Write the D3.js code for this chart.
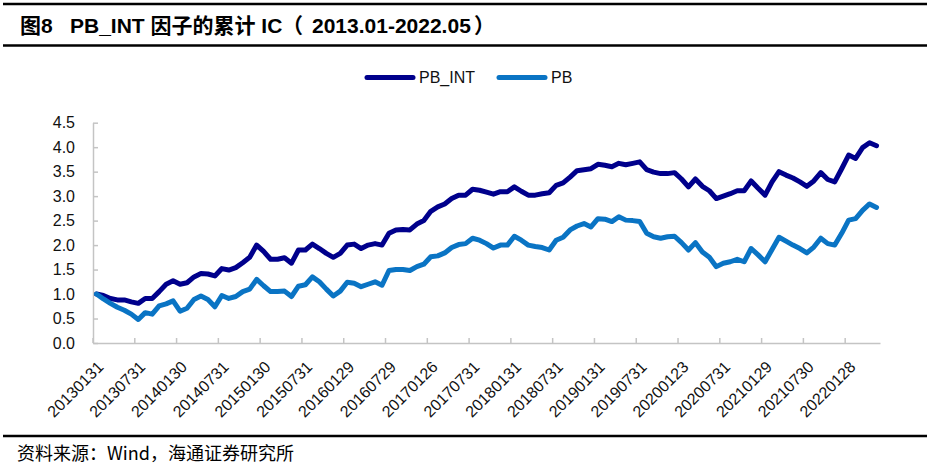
<!DOCTYPE html>
<html>
<head>
<meta charset="utf-8">
<script src="https://cdn.jsdelivr.net/npm/d3@7"></script>
<style>
  html, body { margin: 0; padding: 0; background: #fff; }
  svg { display: block; }
  text { font-family: "Liberation Sans", Arial, "Noto Sans CJK SC", sans-serif; }
</style>
</head>
<body>
<svg id="chart" width="928" height="469"></svg>
<script>
const dates = [
  "20130131","20130228","20130329","20130426","20130531","20130628","20130731","20130830","20130930","20131031","20131129","20131231",
  "20140130","20140228","20140331","20140430","20140530","20140630","20140731","20140829","20140930","20141031","20141128","20141231",
  "20150130","20150227","20150331","20150430","20150529","20150630","20150731","20150831","20150930","20151030","20151130","20151231",
  "20160129","20160229","20160331","20160429","20160531","20160630","20160729","20160831","20160930","20161031","20161130","20161230",
  "20170126","20170228","20170331","20170428","20170531","20170630","20170731","20170831","20170929","20171031","20171130","20171229",
  "20180131","20180228","20180330","20180427","20180531","20180629","20180731","20180831","20180928","20181031","20181130","20181228",
  "20190131","20190228","20190329","20190430","20190531","20190628","20190731","20190830","20190930","20191031","20191129","20191231",
  "20200123","20200228","20200331","20200430","20200529","20200630","20200731","20200831","20200930","20201030","20201130","20201231",
  "20210129","20210226","20210331","20210430","20210531","20210630","20210730","20210831","20210930","20211029","20211130","20211231",
  "20220128","20220228","20220331","20220429","20220531"
];

const tickLabels = ["20130131","20130731","20140130","20140731","20150130","20150731","20160129","20160729",
  "20170126","20170731","20180131","20180731","20190131","20190731","20200123","20200731","20210129","20210730","20220128"];

const yTicks = [0, 0.5, 1.0, 1.5, 2.0, 2.5, 3.0, 3.5, 4.0, 4.5];

const pbInt = [
  1.00,0.97,0.91,0.88,0.88,0.84,0.81,0.91,0.91,1.05,1.20,1.27,
  1.20,1.23,1.35,1.42,1.41,1.37,1.52,1.49,1.54,1.64,1.75,2.00,
  1.87,1.71,1.71,1.74,1.63,1.90,1.90,2.02,1.93,1.83,1.75,1.83,
  2.00,2.02,1.93,2.00,2.03,2.00,2.24,2.31,2.32,2.31,2.43,2.50,
  2.69,2.78,2.84,2.95,3.02,3.02,3.14,3.12,3.08,3.04,3.09,3.09,
  3.19,3.10,3.02,3.02,3.05,3.07,3.22,3.27,3.39,3.52,3.54,3.56,
  3.65,3.63,3.60,3.67,3.64,3.67,3.70,3.54,3.49,3.46,3.46,3.48,
  3.35,3.19,3.35,3.20,3.11,2.95,3.00,3.05,3.11,3.11,3.31,3.16,
  3.02,3.29,3.50,3.43,3.37,3.29,3.20,3.31,3.48,3.34,3.29,3.56,
  3.84,3.77,3.99,4.09,4.03
];

const pb = [
  1.00,0.90,0.81,0.73,0.67,0.59,0.48,0.62,0.59,0.76,0.80,0.86,
  0.65,0.71,0.89,0.96,0.89,0.74,0.97,0.91,0.95,1.05,1.10,1.30,
  1.17,1.05,1.05,1.06,0.95,1.16,1.19,1.35,1.25,1.10,0.96,1.06,
  1.24,1.22,1.15,1.20,1.25,1.18,1.48,1.50,1.50,1.48,1.56,1.61,
  1.76,1.78,1.84,1.95,2.01,2.03,2.14,2.10,2.03,1.94,2.00,2.00,
  2.18,2.10,2.00,1.97,1.95,1.90,2.10,2.16,2.31,2.39,2.44,2.37,
  2.54,2.53,2.48,2.58,2.51,2.50,2.48,2.24,2.17,2.14,2.17,2.18,
  2.05,1.90,2.05,1.86,1.75,1.56,1.63,1.66,1.71,1.66,1.93,1.80,
  1.66,1.91,2.16,2.08,2.00,1.93,1.84,1.96,2.14,2.03,2.00,2.24,
  2.51,2.54,2.71,2.84,2.77
];

const seriesNames = ["PB_INT", "PB"];
const seriesColors = ["#00008C", "#0A74C4"];
const seriesData = [pbInt, pb];

const svg = d3.select("#chart");

// Frame lines and title/footer
const frameY = [4, 45.5, 436];
svg.selectAll("line.frame").data(frameY).enter().append("line")
  .attr("class", "frame")
  .attr("x1", 3).attr("x2", 927).attr("y1", d => d).attr("y2", d => d)
  .attr("stroke", "#000").attr("stroke-width", 2.7);

const title = svg.append("text").attr("y", 33).attr("font-size", 21).attr("font-weight", "bold");
title.append("tspan").attr("x", 20).text("图8");
title.append("tspan").attr("x", 70).text("PB_INT 因子的累计 IC");
title.append("tspan").attr("x", 282).text("（");
title.append("tspan").attr("x", 312).text("2013.01-2022.05");
title.append("tspan").attr("x", 474).text("）");

svg.append("text").attr("x", 17).attr("y", 460).attr("font-size", 18)
  .style("font-family", "'Noto Sans CJK SC', 'Liberation Sans', sans-serif")
  .text("资料来源：Wind，海通证券研究所");

// Scales
const plotLeft = 93, plotRight = 880, plotTop = 122.7, plotBottom = 343;
const x = d3.scaleBand().domain(dates).range([plotLeft, plotRight]).paddingInner(0).paddingOuter(0);
const y = d3.scaleLinear().domain([0, 4.5]).range([plotBottom, plotTop]);
const cx = d => x(d) + x.bandwidth() / 2;

const axisColor = "#C4C4C4";

// Y axis
const yAxis = d3.axisLeft(y).tickValues(yTicks).tickFormat(d3.format(".1f")).tickSizeInner(-5).tickSizeOuter(0).tickPadding(18);
const gy = svg.append("g").attr("transform", `translate(${plotLeft},0)`).call(yAxis);
gy.select(".domain").attr("stroke", axisColor).attr("stroke-width", 1.5);
gy.selectAll(".tick line").attr("stroke", axisColor).attr("stroke-width", 1.5);
gy.selectAll(".tick text").attr("font-size", 16).attr("fill", "#111")
  .style("font-family", "'Liberation Sans', Arial, sans-serif");

// X axis
const xAxis = d3.axisBottom(x).tickValues(tickLabels).tickSizeInner(0).tickSizeOuter(0).tickFormat(d => d);
const gx = svg.append("g").attr("transform", `translate(0,${plotBottom})`).call(xAxis);
gx.select(".domain").attr("stroke", axisColor).attr("stroke-width", 1.5);
gx.selectAll(".tick line").remove();
gx.selectAll(".tick").attr("transform", d => `translate(${cx(d)},0)`);
gx.selectAll(".tick text")
  .attr("font-size", 16).attr("fill", "#111")
  .style("font-family", "'Liberation Sans', Arial, sans-serif")
  .attr("text-anchor", "end")
  .attr("x", 0).attr("y", 0).attr("dy", "0.35em")
  .attr("transform", "translate(4,21) rotate(-45)");

// x tick marks at category boundaries (pointing inward)
svg.append("g").selectAll("line").data(tickLabels).enter().append("line")
  .attr("x1", d => x(d)).attr("x2", d => x(d))
  .attr("y1", plotBottom).attr("y2", plotBottom - 5)
  .attr("stroke", axisColor).attr("stroke-width", 1.5);

// Lines
const line = d3.line().x((d, i) => cx(dates[i])).y(d => y(d)).curve(d3.curveLinear);
svg.append("g").selectAll("path").data(seriesData).enter().append("path")
  .attr("d", d => line(d))
  .attr("fill", "none")
  .attr("stroke", (d, i) => seriesColors[i])
  .attr("stroke-width", 5)
  .attr("stroke-linejoin", "round")
  .attr("stroke-linecap", "round");

// Legend
const legendX = [367, 499];
const lg = svg.append("g");
seriesNames.forEach((name, i) => {
  lg.append("line").attr("x1", legendX[i]).attr("x2", legendX[i] + 46)
    .attr("y1", 77.5).attr("y2", 77.5)
    .attr("stroke", seriesColors[i]).attr("stroke-width", 5).attr("stroke-linecap", "round");
  lg.append("text").attr("x", legendX[i] + 52).attr("y", 77.5).attr("dy", "0.35em")
    .attr("font-size", 16).attr("fill", "#111")
    .style("font-family", "'Liberation Sans', Arial, sans-serif")
    .text(name);
});
</script>
</body>
</html>
